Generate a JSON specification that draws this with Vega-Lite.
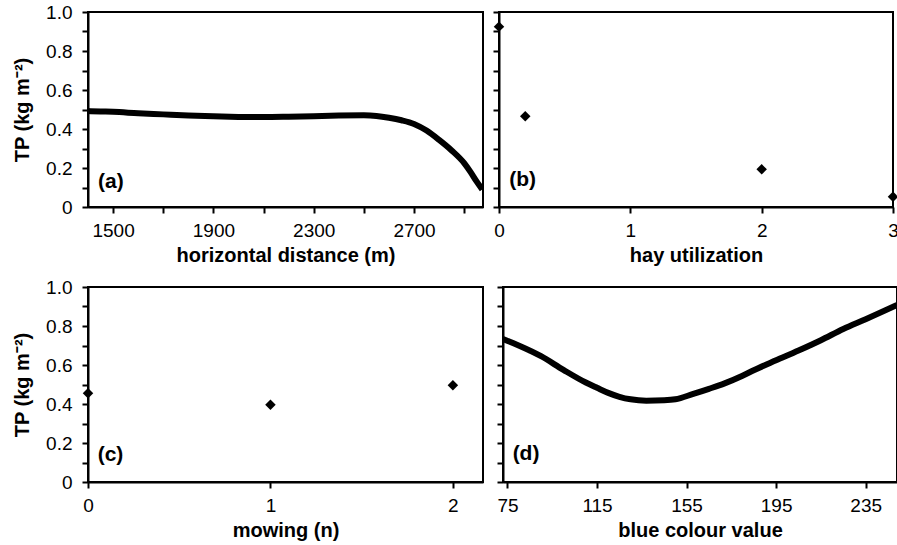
{
  "$schema": "https://vega.github.io/schema/vega-lite/v6.json",
  "padding": {"top": 2, "left": 11, "right": 0, "bottom": 0},
  "background": "white",
  "config": {
    "font": "Liberation Sans",
    "view": {"stroke": "black", "strokeWidth": 2},
    "axis": {
      "grid": false,
      "domainColor": "black",
      "domainWidth": 2,
      "tickColor": "black",
      "tickWidth": 2,
      "tickSize": 6,
      "labelFont": "Liberation Sans",
      "labelFontSize": 19,
      "labelColor": "black",
      "labelPadding": 8,
      "labelFlush": false,
      "labelBound": false,
      "labelOverlap": false,
      "titleFont": "Liberation Sans",
      "titleFontSize": 20,
      "titleFontWeight": "bold",
      "titleColor": "black",
      "titlePadding": 5
    },
    "axisY": {"labelPadding": 10, "titlePadding": 13, "labelOverlap": false},
    "text": {"align": "left", "baseline": "middle", "fontSize": 21, "fontWeight": "bold", "color": "black", "font": "Liberation Sans"}
  },
  "spacing": 11,
  "vconcat": [
    {
      "spacing": 7,
      "hconcat": [
        {
          "width": 395,
          "height": 195,
          "encoding": {
            "x": {"field": "d", "type": "quantitative", "scale": {"domain": [1400, 2975], "nice": false, "zero": false},
              "axis": {"title": "horizontal distance (m)", "values": [1500, 1700, 1900, 2100, 2300, 2500, 2700, 2900],
                "labelExpr": "datum.value % 400 == 300 ? format(datum.value, 'd') : ''", "labelOverlap": false}},
            "y": {"field": "tp", "type": "quantitative", "scale": {"domain": [0, 1], "nice": false},
              "axis": {"title": "TP (kg m⁻²)", "values": [0, 0.1, 0.2, 0.3, 0.4, 0.5, 0.6, 0.7, 0.8, 0.9, 1.0], "labelOverlap": false,
                "labelExpr": "round(datum.value*10) % 2 == 0 ? (datum.value == 0 ? '0' : format(datum.value, '.1f')) : ''"}}
          },
          "layer": [
            {
              "data": {"values": [
                {"d": 1400, "tp": 0.492}, {"d": 1450, "tp": 0.490}, {"d": 1500, "tp": 0.488},
                {"d": 1600, "tp": 0.481}, {"d": 1700, "tp": 0.475}, {"d": 1800, "tp": 0.469},
                {"d": 1900, "tp": 0.465}, {"d": 2000, "tp": 0.462}, {"d": 2100, "tp": 0.461},
                {"d": 2200, "tp": 0.463}, {"d": 2300, "tp": 0.466}, {"d": 2400, "tp": 0.469},
                {"d": 2500, "tp": 0.470}, {"d": 2550, "tp": 0.467}, {"d": 2600, "tp": 0.458},
                {"d": 2650, "tp": 0.445}, {"d": 2700, "tp": 0.426}, {"d": 2750, "tp": 0.392},
                {"d": 2800, "tp": 0.344}, {"d": 2850, "tp": 0.290}, {"d": 2900, "tp": 0.225},
                {"d": 2925, "tp": 0.180}, {"d": 2950, "tp": 0.130}, {"d": 2972, "tp": 0.090}
              ]},
              "mark": {"type": "line", "color": "black", "strokeWidth": 6, "interpolate": "monotone", "clip": true}
            },
            {
              "data": {"values": [{"d": 1440, "tp": 0.128, "lab": "(a)"}]},
              "mark": {"type": "text"},
              "encoding": {"text": {"field": "lab"}}
            }
          ]
        },
        {
          "width": 394,
          "height": 195,
          "encoding": {
            "x": {"field": "h", "type": "quantitative", "scale": {"domain": [0, 3], "nice": false},
              "axis": {"title": "hay utilization", "values": [0, 1, 2, 3], "format": "d", "labelOverlap": false}},
            "y": {"field": "tp", "type": "quantitative", "scale": {"domain": [0, 1], "nice": false},
              "axis": {"title": null, "labels": false, "values": [0, 0.1, 0.2, 0.3, 0.4, 0.5, 0.6, 0.7, 0.8, 0.9, 1.0]}}
          },
          "layer": [
            {
              "data": {"values": [
                {"h": 0, "tp": 0.925}, {"h": 0.2, "tp": 0.465}, {"h": 2, "tp": 0.193}, {"h": 3, "tp": 0.053}
              ]},
              "mark": {"type": "point", "shape": "diamond", "filled": true, "color": "black", "size": 110, "opacity": 1, "clip": false}
            },
            {
              "data": {"values": [{"h": 0.078, "tp": 0.138, "lab": "(b)"}]},
              "mark": {"type": "text"},
              "encoding": {"text": {"field": "lab"}}
            }
          ]
        }
      ]
    },
    {
      "spacing": 11,
      "hconcat": [
        {
          "width": 395,
          "height": 195,
          "encoding": {
            "x": {"field": "m", "type": "quantitative", "scale": {"domain": [0, 2.165], "nice": false},
              "axis": {"title": "mowing (n)", "values": [0, 1, 2], "format": "d", "labelOverlap": false}},
            "y": {"field": "tp", "type": "quantitative", "scale": {"domain": [0, 1], "nice": false},
              "axis": {"title": "TP (kg m⁻²)", "values": [0, 0.1, 0.2, 0.3, 0.4, 0.5, 0.6, 0.7, 0.8, 0.9, 1.0], "labelOverlap": false,
                "labelExpr": "round(datum.value*10) % 2 == 0 ? (datum.value == 0 ? '0' : format(datum.value, '.1f')) : ''"}}
          },
          "layer": [
            {
              "data": {"values": [
                {"m": 0, "tp": 0.455}, {"m": 1, "tp": 0.396}, {"m": 2, "tp": 0.496}
              ]},
              "mark": {"type": "point", "shape": "diamond", "filled": true, "color": "black", "size": 110, "opacity": 1, "clip": false}
            },
            {
              "data": {"values": [{"m": 0.053, "tp": 0.138, "lab": "(c)"}]},
              "mark": {"type": "text"},
              "encoding": {"text": {"field": "lab"}}
            }
          ]
        },
        {
          "width": 394,
          "height": 195,
          "encoding": {
            "x": {"field": "b", "type": "quantitative", "scale": {"domain": [73, 249], "nice": false, "zero": false},
              "axis": {"title": "blue colour value", "values": [75, 115, 155, 195, 235], "format": "d", "labelOverlap": false}},
            "y": {"field": "tp", "type": "quantitative", "scale": {"domain": [0, 1], "nice": false},
              "axis": {"title": null, "labels": false, "values": [0, 0.1, 0.2, 0.3, 0.4, 0.5, 0.6, 0.7, 0.8, 0.9, 1.0]}}
          },
          "layer": [
            {
              "data": {"values": [
                {"b": 73, "tp": 0.733}, {"b": 80, "tp": 0.700}, {"b": 90, "tp": 0.645},
                {"b": 100, "tp": 0.575}, {"b": 110, "tp": 0.510}, {"b": 115, "tp": 0.483},
                {"b": 120, "tp": 0.457}, {"b": 125, "tp": 0.437}, {"b": 130, "tp": 0.424},
                {"b": 137, "tp": 0.417}, {"b": 145, "tp": 0.419}, {"b": 150, "tp": 0.424},
                {"b": 158, "tp": 0.452}, {"b": 165, "tp": 0.478}, {"b": 172, "tp": 0.506},
                {"b": 180, "tp": 0.545}, {"b": 185, "tp": 0.573}, {"b": 195, "tp": 0.624},
                {"b": 205, "tp": 0.674}, {"b": 215, "tp": 0.727}, {"b": 225, "tp": 0.785},
                {"b": 235, "tp": 0.835}, {"b": 249, "tp": 0.908}
              ]},
              "mark": {"type": "line", "color": "black", "strokeWidth": 6, "interpolate": "monotone", "clip": true}
            },
            {
              "data": {"values": [{"b": 77.3, "tp": 0.142, "lab": "(d)"}]},
              "mark": {"type": "text"},
              "encoding": {"text": {"field": "lab"}}
            }
          ]
        }
      ]
    }
  ]
}
